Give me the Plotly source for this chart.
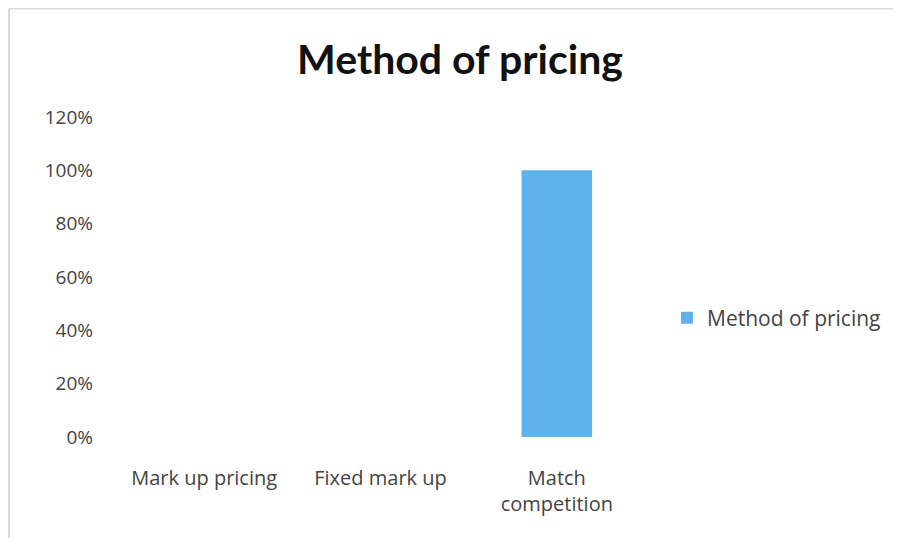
import plotly.graph_objects as go

categories = ["Mark up pricing", "Fixed mark up", "Match<br>competition"]
values = [0, 0, 1.0]
series_name = "Method of pricing"
tick_vals = [0, 0.2, 0.4, 0.6, 0.8, 1.0, 1.2]
tick_text = ["0%", "20%", "40%", "60%", "80%", "100%", "120%"]

W, H = 885, 530
L, R, T, B = 108, 248, 109, 101
pw, ph = W - L - R, H - T - B

fig = go.Figure()
fig.add_trace(go.Bar(x=categories, y=values, name=series_name,
                     marker=dict(color="#5DB3EA", line=dict(width=0)),
                     width=0.40, showlegend=True))

fig.update_layout(
    width=W, height=H,
    margin=dict(l=L, r=R, t=T, b=B, autoexpand=False),
    paper_bgcolor="white", plot_bgcolor="white",
    title=dict(text="<b>Method of pricing</b>", x=452 / W, xanchor="center",
               y=1 - 52 / H, yanchor="middle",
               font=dict(family="Lato", size=41, color="#111111")),
    font=dict(family="Open Sans", size=20, color="#404040"),
    xaxis=dict(showgrid=False, showline=False, zeroline=False, ticks="",
               automargin=False, ticklabelstandoff=27,
               tickfont=dict(family="Open Sans", size=20, color="#444444")),
    yaxis=dict(range=[0, 1.2], tickvals=tick_vals, ticktext=tick_text,
               showgrid=False, showline=False, zeroline=False, ticks="",
               automargin=False, ticklabelstandoff=22,
               tickfont=dict(family="Open Sans", size=19, color="#444444")),
    showlegend=True,
    legend=dict(x=(659 - L) / pw, y=(H - B - 310) / ph, xanchor="left", yanchor="middle",
                font=dict(family="Open Sans", size=21, color="#444444"),
                bgcolor="rgba(0,0,0,0)"),
)
# chart frame (top and left edges visible in the reference)
fig.add_shape(type="line", xref="paper", yref="paper",
              x0=(1 - L) / pw, x1=(W - L) / pw,
              y0=(H - B - 0.5) / ph, y1=(H - B - 0.5) / ph,
              line=dict(color="#D9D9D9", width=2))
fig.add_shape(type="line", xref="paper", yref="paper",
              x0=(1 - L) / pw, x1=(1 - L) / pw,
              y0=(H - B - 0.5) / ph, y1=(H - B - H) / ph,
              line=dict(color="#D9D9D9", width=2))

fig.write_html("out.html")
